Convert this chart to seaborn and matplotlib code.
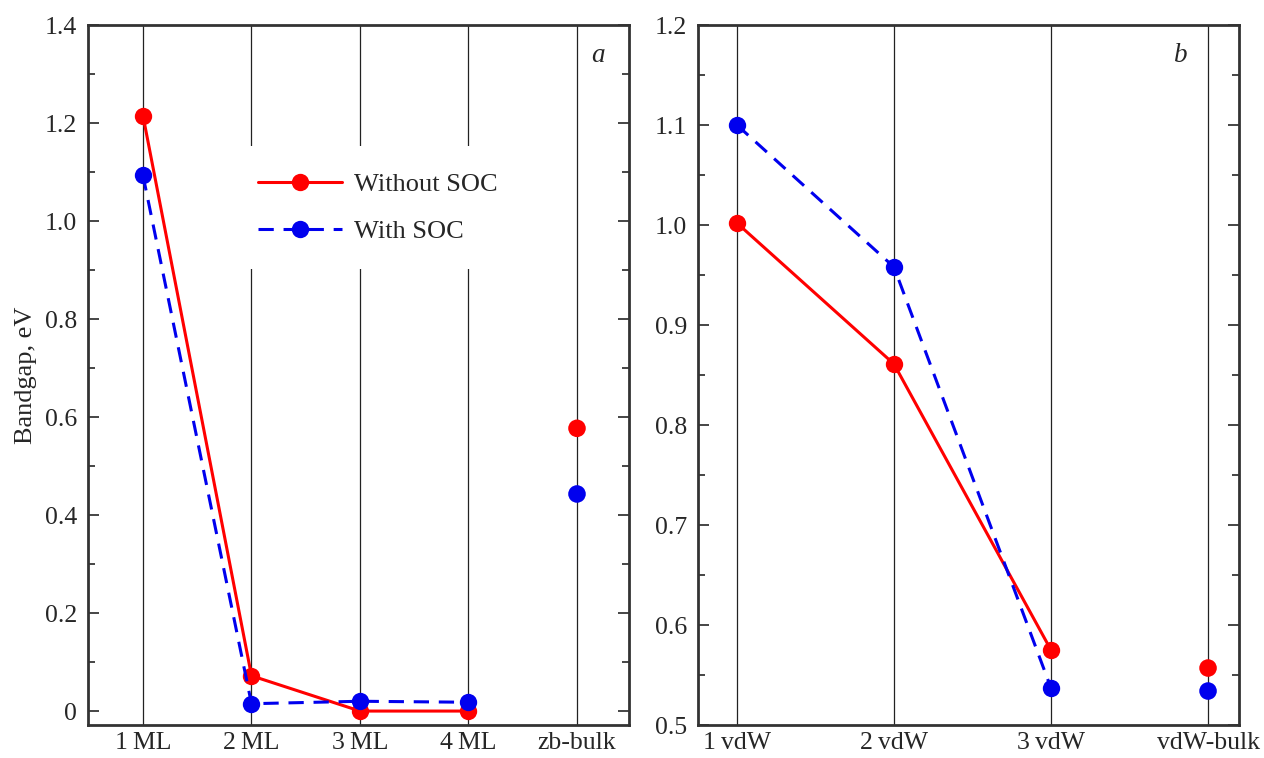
import numpy as np
import pandas as pd
import matplotlib.pyplot as plt
import seaborn as sns
from matplotlib.ticker import MultipleLocator

sns.set_theme(style="white")
plt.rcParams["font.family"] = ["Liberation Serif", "DejaVu Serif"]

# panel a: monolayers
labels_a = ["1\u2009ML", "2\u2009ML", "3\u2009ML", "4\u2009ML", "zb-bulk"]
nosoc_a = [1.215, 0.072, 0.0, 0.0]
soc_a = [1.093, 0.015, 0.020, 0.018]
bulk_nosoc_a = 0.577
bulk_soc_a = 0.443

# panel b: vdW layers
labels_b = ["1\u2009vdW", "2\u2009vdW", "3\u2009vdW", "vdW-bulk"]
nosoc_b = [1.002, 0.861, 0.575]
soc_b = [1.100, 0.958, 0.537]
bulk_nosoc_b = 0.557
bulk_soc_b = 0.534

RED = "#ff0000"
BLUE = "#0000ee"
FS = 18.5


def make_df(nosoc, soc):
    n = len(nosoc)
    return pd.DataFrame({
        "x": list(range(n)) * 2,
        "gap": nosoc + soc,
        "kind": ["Without SOC"] * n + ["With SOC"] * n,
    })


def draw_panel(ax, labels, nosoc, soc, bnosoc, bsoc, ylim, major, xlim, tag, tagpos, legend=False):
    for i in range(len(labels)):
        ax.axvline(i, color="#222222", lw=0.9, zorder=0)
    df = make_df(nosoc, soc)
    sns.lineplot(data=df, x="x", y="gap", hue="kind", style="kind",
                 palette={"Without SOC": RED, "With SOC": BLUE},
                 dashes={"Without SOC": "", "With SOC": (5, 3.2)},
                 markers={"Without SOC": "o", "With SOC": "o"},
                 markersize=12.5, markeredgewidth=0, lw=2.2, ax=ax, zorder=3,
                 legend=legend)
    bulk = pd.DataFrame({"x": [len(labels) - 1] * 2, "gap": [bnosoc, bsoc],
                         "kind": ["Without SOC", "With SOC"]})
    sns.scatterplot(data=bulk, x="x", y="gap", hue="kind",
                    palette={"Without SOC": RED, "With SOC": BLUE},
                    s=160, linewidth=0, ax=ax, zorder=3, legend=False)
    ax.set_xlim(*xlim)
    ax.set_ylim(*ylim)
    ax.set_xticks(range(len(labels)))
    ax.set_xticklabels(labels, fontsize=FS)
    ax.tick_params(axis="x", length=0, pad=5)
    ax.yaxis.set_major_locator(MultipleLocator(major))
    ax.yaxis.set_minor_locator(MultipleLocator(major / 2))
    ax.tick_params(axis="y", which="both", direction="in", left=True, right=True, labelsize=FS)
    ax.tick_params(axis="y", which="major", length=8, width=1.2, pad=8)
    ax.tick_params(axis="y", which="minor", length=5, width=1.2)
    for s in ax.spines.values():
        s.set_color("#333333")
        s.set_linewidth(2)
    ax.set_xlabel("")
    ax.set_ylabel("")
    ax.text(tagpos[0], tagpos[1], tag, transform=ax.transAxes, fontsize=FS + 1,
            style="italic", ha="center", va="center")


fig = plt.figure(figsize=(12.64, 7.58), dpi=100)
ax1 = fig.add_axes([0.0696, 0.0435, 0.428, 0.9235])
ax2 = fig.add_axes([0.5522, 0.0435, 0.428, 0.9235])

draw_panel(ax1, labels_a, nosoc_a, soc_a, bulk_nosoc_a, bulk_soc_a,
           (-0.0285, 1.4), 0.2, (-0.507, 4.479), "a", (0.943, 0.957), legend=True)
ax1.yaxis.set_major_formatter(plt.FuncFormatter(lambda v, p: "0" if abs(v) < 1e-9 else f"{v:.1f}"))
ax1.set_ylabel("Bandgap, eV", fontsize=19)
ax1.yaxis.set_label_coords(-0.094, 0.5)
leg = ax1.legend(loc="center", bbox_to_anchor=(0.536, 0.739), fontsize=19, frameon=True,
                 facecolor="white", edgecolor="none", framealpha=1, handlelength=3.2,
                 handletextpad=0.45, labelspacing=0.9, borderpad=1.0)
leg.set_title(None)
leg.set_zorder(2)

draw_panel(ax2, labels_b, nosoc_b, soc_b, bulk_nosoc_b, bulk_soc_b,
           (0.5, 1.2), 0.1, (-0.248, 3.197), "b", (0.893, 0.957))
ax2.yaxis.set_major_formatter(plt.FuncFormatter(lambda v, p: f"{v:.1f}"))

fig.savefig("out.png", dpi=100)
